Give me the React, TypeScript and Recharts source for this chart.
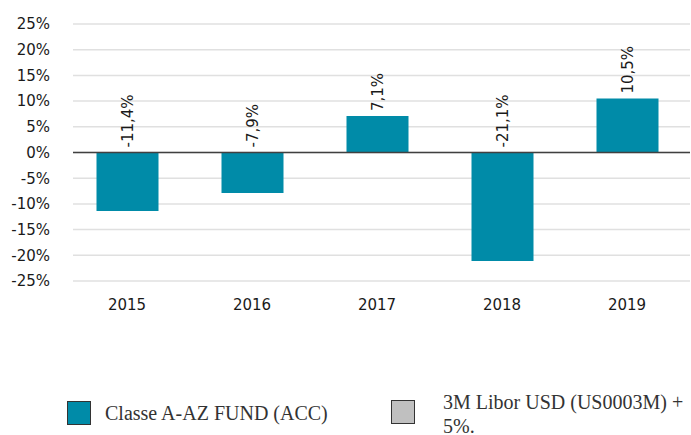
import { Bar, BarChart, CartesianGrid, LabelList, ReferenceLine, XAxis, YAxis } from 'recharts'

const years = ['2015', '2016', '2017', '2018', '2019']
const fundReturns = [-11.4, -7.9, 7.1, -21.1, 10.5]
const yTicks = [-25, -20, -15, -10, -5, 0, 5, 10, 15, 20, 25]
const legendNames = ['Classe A-AZ FUND (ACC)', '3M Libor USD (US0003M) + 5%.']
const legendColors = ['#008BA8', '#C0C0C0']

const data = years.map((year, i) => ({ year, fund: fundReturns[i] }))

const sans = 'DejaVu Sans, sans-serif'
const serif = 'Liberation Serif, Times New Roman, serif'

const fmt = (v: number) => `${String(v).replace('.', ',')}%`

// rotated value label sitting above the bar top (or above the zero line for negatives)
function RotatedLabel(props: any) {
  const { x, y, width, height, value } = props
  const top = Math.min(Number(y), Number(y) + Number(height))
  const cx = Number(x) + Number(width) / 2
  return (
    <text
      transform={`translate(${cx}, ${top - 5}) rotate(-90)`}
      textAnchor='start'
      dominantBaseline='central'
      fontFamily={sans}
      fontSize={15}
      fill='#1a1a1a'
    >
      {fmt(value)}
    </text>
  )
}

export default function App() {
  return (
    <div style={{ position: 'absolute', left: 0, top: 0, width: 691, height: 435, background: '#fff' }}>
      <BarChart
        width={691}
        height={435}
        data={data}
        margin={{ top: 24, right: 1, bottom: 124, left: 0 }}
      >
        <CartesianGrid vertical={false} stroke='#e0e0e0' strokeWidth={1.5} />
        <XAxis
          dataKey='year'
          height={30}
          axisLine={false}
          tickLine={false}
          tickSize={0}
          tickMargin={18}
          padding={{ left: -8.5, right: 0.5 }}
          tick={{ fontFamily: sans, fontSize: 15, fill: '#1a1a1a' }}
        />
        <YAxis
          domain={[-25, 25]}
          ticks={yTicks}
          interval={0}
          width={73}
          axisLine={false}
          tickLine={false}
          tickSize={0}
          tickMargin={23}
          tickFormatter={(v: number) => `${v}%`}
          tick={{ fontFamily: sans, fontSize: 15, fill: '#1a1a1a' }}
        />
        <Bar dataKey='fund' fill={legendColors[0]} barSize={62} isAnimationActive={false}>
          <LabelList dataKey='fund' content={RotatedLabel} />
        </Bar>
        <ReferenceLine y={0} stroke='#404040' strokeWidth={1.5} />
      </BarChart>

      {/* legend */}
      <div style={{ position: 'absolute', left: 67, top: 401, display: 'flex', alignItems: 'center' }}>
        <div style={{ width: 22, height: 22, background: legendColors[0], border: '1px solid #333' }} />
        <span style={{ marginLeft: 14, fontFamily: serif, fontSize: 20, color: '#333', lineHeight: '24px' }}>
          {legendNames[0]}
        </span>
      </div>
      <div style={{ position: 'absolute', left: 391, top: 400 }}>
        <div style={{ width: 22, height: 22, background: legendColors[1], border: '1px solid #333' }} />
      </div>
      <div
        style={{
          position: 'absolute',
          left: 443,
          top: 390,
          width: 243,
          fontFamily: serif,
          fontSize: 20,
          lineHeight: '24px',
          color: '#333',
        }}
      >
        {legendNames[1]}
      </div>
    </div>
  )
}
